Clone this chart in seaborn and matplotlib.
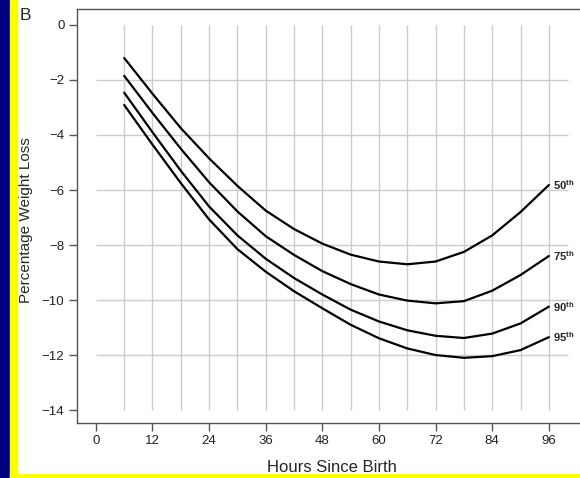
import numpy as np
import pandas as pd
import matplotlib
matplotlib.use('Agg')
import matplotlib.pyplot as plt
from matplotlib.patches import Rectangle
import seaborn as sns

# percentile curves (panel B)
hours = [6, 12, 18, 24, 30, 36, 42, 48, 54, 60, 66, 72, 78, 84, 90, 96]
p50 = [-1.2, -2.5, -3.75, -4.85, -5.85, -6.75, -7.42, -7.95, -8.35, -8.6, -8.7, -8.6, -8.25, -7.65, -6.8, -5.82]
p75 = [-1.85, -3.2, -4.5, -5.72, -6.78, -7.68, -8.36, -8.95, -9.42, -9.8, -10.02, -10.12, -10.04, -9.66, -9.09, -8.4]
p90 = [-2.46, -3.9, -5.3, -6.6, -7.65, -8.5, -9.2, -9.8, -10.35, -10.78, -11.1, -11.3, -11.38, -11.22, -10.85, -10.24]
p95 = [-2.91, -4.35, -5.75, -7.07, -8.15, -8.97, -9.68, -10.3, -10.9, -11.39, -11.76, -12.0, -12.1, -12.04, -11.82, -11.35]
percentiles = ['50', '75', '90', '95']
xticks = [0, 12, 24, 36, 48, 60, 72, 84, 96]
yticks = [0, -2, -4, -6, -8, -10, -12, -14]

df = pd.DataFrame({
    'hours': hours * 4,
    'loss': p50 + p75 + p90 + p95,
    'pct': sum([[p] * len(hours) for p in percentiles], []),
})

sns.set_style('white')
plt.rcParams['font.family'] = ['Liberation Sans', 'DejaVu Sans']
plt.rcParams['mathtext.fontset'] = 'custom'
plt.rcParams['mathtext.rm'] = 'Liberation Sans'
plt.rcParams['mathtext.bf'] = 'Liberation Sans:bold'

fig = plt.figure(figsize=(5.8, 4.78), dpi=100)
ax = fig.add_axes([77 / 580, 1 - 423 / 478, 1 - 77 / 580, (423 - 9) / 478])

# grid drawn by hand, it stops short of the spines
ax.vlines(np.arange(6, 97, 6), -14, 0, color='#cccccc', lw=1, zorder=0)
ax.hlines(np.arange(-2, -13, -2), 0, 100, color='#cccccc', lw=1, zorder=0)

sns.lineplot(data=df, x='hours', y='loss', hue='pct', palette=['black'] * 4,
             legend=False, lw=1.6, ax=ax)
for ln in ax.lines:
    ln.set_solid_joinstyle('round')

for p, vals in zip(percentiles, [p50, p75, p90, p95]):
    ax.text(96.9, vals[-1] - 0.18, r'$\mathbf{' + p + r'^{th}}$', fontsize=8,
            ha='left', va='baseline')

ax.set_xlim(-4, 102.6)
ax.set_ylim(-14.47, 0.58)
ax.set_xticks(xticks)
ax.set_yticks(yticks)
ax.tick_params(axis='both', direction='out', length=5.5, width=1, color='#555555',
               labelsize=9.5, pad=3.5, labelcolor='#222222')
ax.tick_params(axis='x', bottom=True)
ax.tick_params(axis='y', left=True)
for side in ['left', 'bottom', 'top']:
    ax.spines[side].set_color('#555555')
    ax.spines[side].set_linewidth(1)
ax.spines['right'].set_visible(False)

ax.set_xlabel('Hours Since Birth', fontsize=12)
ax.set_ylabel('Percentage Weight Loss', fontsize=11)
ax.xaxis.set_label_coords(0.507, -0.09)
ax.yaxis.set_label_coords(-0.088, 0.49)

fig.text(20 / 580, 1 - 8 / 478, 'B', fontsize=12.5, ha='left', va='top')

# coloured frame strips
fig.patches.append(Rectangle((0, 0), 10 / 580, 1, transform=fig.transFigure,
                             color='#000080', zorder=5))
fig.patches.append(Rectangle((10 / 580, 0), 7 / 580, 1, transform=fig.transFigure,
                             color='#ffff00', zorder=5))
fig.patches.append(Rectangle((10 / 580, 0), 1, 4 / 478, transform=fig.transFigure,
                             color='#ffff00', zorder=5))

fig.savefig('out.png', dpi=100)
